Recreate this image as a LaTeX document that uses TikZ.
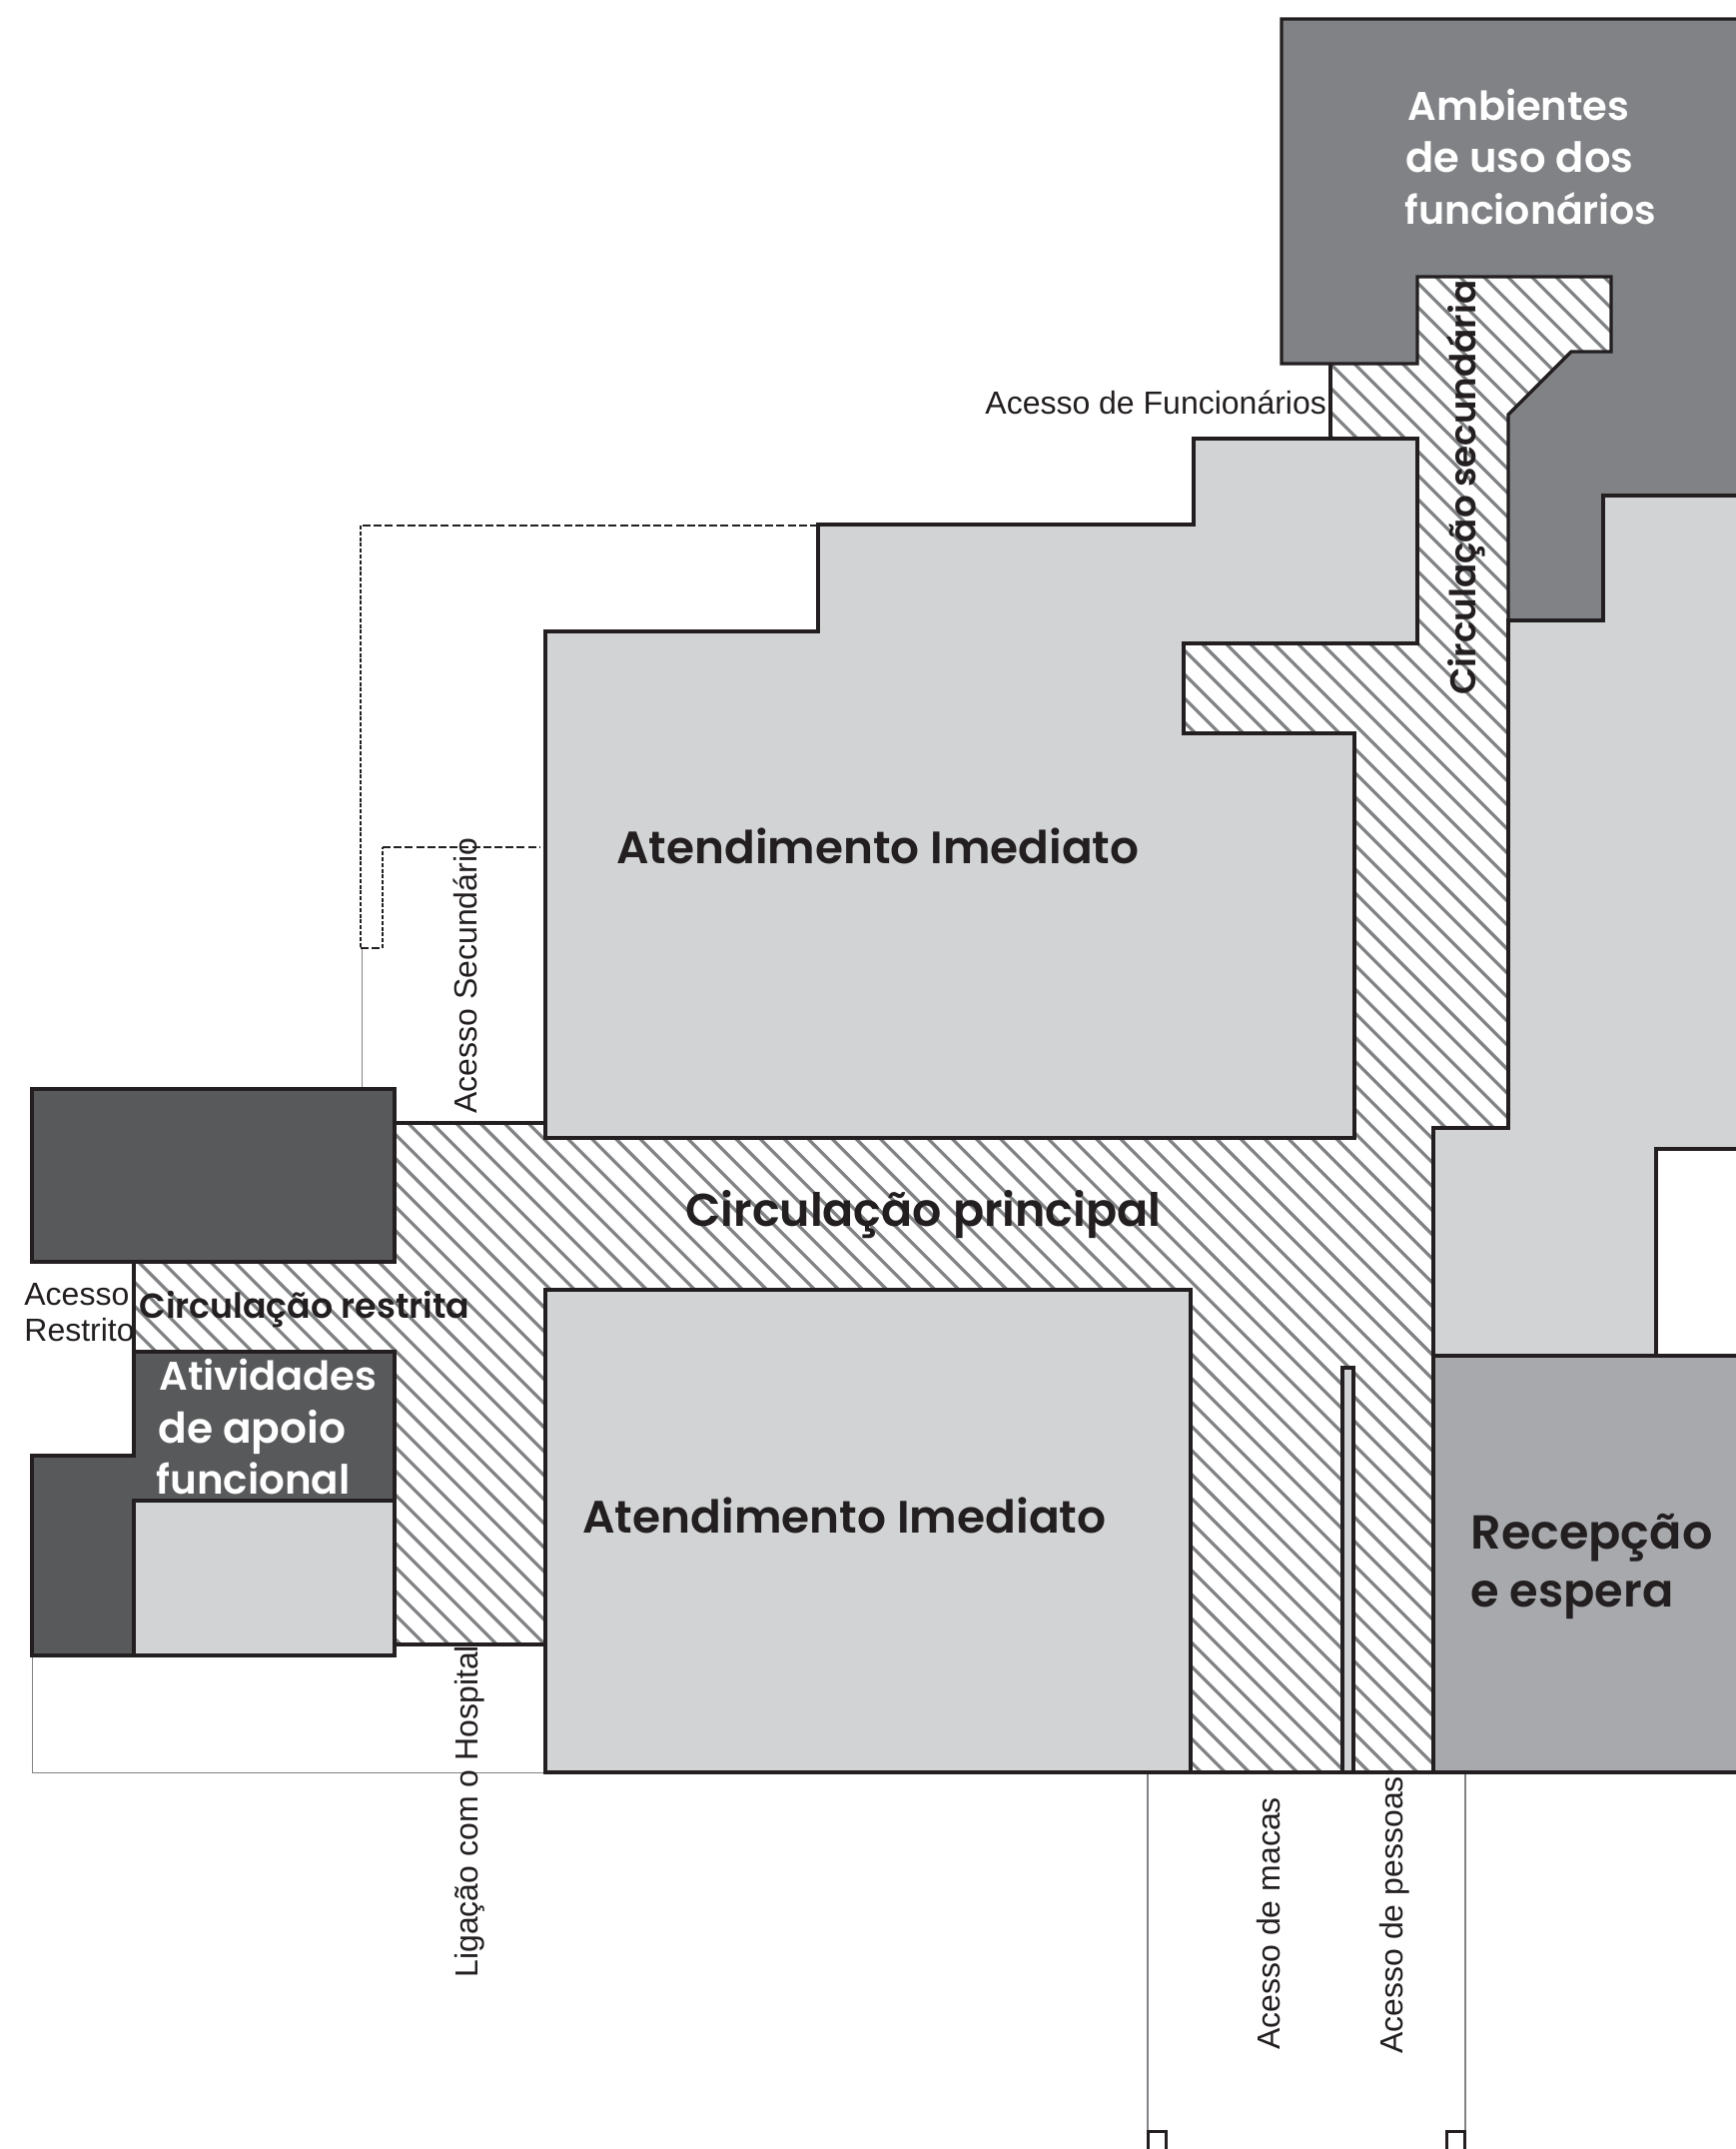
\documentclass[tikz,border=0pt]{standalone}
\usepackage{fontspec}
\usepackage{graphicx}
\setmainfont{Liberation Sans}
\newfontfamily\ttlfont[BoldFont={Poppins SemiBold}]{Poppins}
\definecolor{ink}{HTML}{231F20}
\definecolor{midgray}{HTML}{808285}
\definecolor{darkgray}{HTML}{58595B}
\definecolor{lightgray}{HTML}{D1D3D4}
\definecolor{recgray}{HTML}{A7A9AC}
\newcommand{\ttl}[2]{\resizebox{#1pt}{!}{\fontsize{20}{20}\ttlfont\bfseries #2}}
\tikzset{
  room/.style={draw=ink,line width=1.7pt,line join=miter},
  thinline/.style={draw=midgray,line width=0.5pt},
  stemline/.style={draw=midgray,line width=0.8pt},
  lbl/.style={font=\fontsize{16}{16}\selectfont,text=ink,inner sep=0pt},
  ttltext/.style={inner sep=0pt,anchor=base west,text=ink},
  ttlwhite/.style={inner sep=0pt,anchor=base west,text=white},
  hatchline/.style={draw=midgray,line width=1.6pt},
  access/.style={draw=ink,line width=0.9pt,dash pattern=on 4pt off 1.6pt},
  accessfine/.style={draw=ink,line width=0.9pt,dash pattern=on 2pt off 0.9pt}
}
\begin{document}
\begin{tikzpicture}[x=0.5pt,y=-0.5pt]
\useasboundingbox (0,0) rectangle (1737,2151);
\fill[white] (0,0) rectangle (1737,2151);
% thin reference lines
\draw[thinline] (362,949) -- (362,1090);
\draw[thinline] (32,1657) -- (32,1774) -- (546,1774);
\draw[stemline] (1149,1774) -- (1149,2133);
\draw[stemline] (1467,1774) -- (1467,2133);
\draw[ink,line width=1.5pt] (1149.5,2151) -- (1149.5,2133.5) -- (1167.5,2133.5) -- (1167.5,2151);
\draw[ink,line width=1.5pt] (1448.5,2151) -- (1448.5,2133.5) -- (1466.5,2133.5) -- (1466.5,2151);
% dashed access path
\draw[access] (819,526) -- (361,526);
\draw[accessfine] (361,526) -- (361,949);
\draw[access] (361,949) -- (383,949);
\draw[accessfine] (383,949) -- (383,848);
\draw[access] (383,848) -- (540,848);
% hatched circulation
\begin{scope}
\clip (1332,364) -- (1419,364) -- (1419,277) -- (1613,277) -- (1613,352) -- (1573,352) -- (1510,415) -- (1510,1129) -- (1435,1129) -- (1435,1774) -- (1191,1774) -- (1191,1291) -- (546,1291) -- (546,1646) -- (395,1646) -- (395,1353) -- (134,1353) -- (134,1263) -- (395,1263) -- (395,1124) -- (546,1124) -- (546,1139) -- (1356,1139) -- (1356,734) -- (1185,734) -- (1185,644) -- (1419,644) -- (1419,439) -- (1332,439) -- cycle;
\foreach \k in {-73,...,37} {
  \pgfmathsetmacro\c{403+24.05*\k}
  \draw[hatchline] (0,{\c}) -- (1737,{\c+1737});
}
\end{scope}
\draw[room] (1332,364) -- (1332,439);
\draw[room] (395,1124) -- (546,1124);
\draw[room] (395,1646) -- (546,1646);
\draw[room] (134,1263) -- (134,1353);
% rooms
\draw[room,fill=midgray] (1283,19) -- (1750,19) -- (1750,496) -- (1605,496) -- (1605,621) -- (1510,621) -- (1510,415) -- (1573,352) -- (1613,352) -- (1613,277) -- (1419,277) -- (1419,364) -- (1283,364) -- cycle;
\draw[room,fill=lightgray] (1510,621) -- (1605,621) -- (1605,496) -- (1750,496) -- (1750,1150) -- (1658,1150) -- (1658,1357) -- (1435,1357) -- (1435,1129) -- (1510,1129) -- cycle;
\draw[room,fill=lightgray] (1195,439) -- (1419,439) -- (1419,644) -- (1185,644) -- (1185,734) -- (1356,734) -- (1356,1139) -- (546,1139) -- (546,632) -- (819,632) -- (819,525) -- (1195,525) -- cycle;
\draw[room,fill=lightgray] (546,1291) rectangle (1192,1774);
\draw[room,fill=recgray] (1435,1357) rectangle (1750,1774);
\draw[room,fill=lightgray] (1344,1369) rectangle (1355,1774);
\draw[room] (1191,1774) -- (1435,1774);
\draw[room,fill=darkgray] (32,1090) rectangle (395,1263);
\draw[room,fill=darkgray] (134,1353) -- (395,1353) -- (395,1502) -- (134,1502) -- (134,1657) -- (32,1657) -- (32,1457) -- (134,1457) -- cycle;
\draw[room,fill=lightgray] (134,1502) rectangle (395,1657);
% room titles
\node[ttlwhite] (amb1) at (1409,121) {\ttl{111}{Ambientes}};
\node[ttlwhite] (amb2) at (1407,173) {\ttl{114}{de uso dos}};
\node[ttlwhite] (amb3) at (1406,225) {\ttl{126}{funcionários}};
\node[ttltext] (aten1) at (617,864) {\ttl{261.5}{Atendimento Imediato}};
\node[ttltext] (aten2) at (583,1534) {\ttl{262}{Atendimento Imediato}};
\node[ttltext] (princ) at (686,1227) {\ttl{238}{Circulação principal}};
\node[ttltext] (restr) at (139,1319) {\ttl{165.5}{Circulação restrita}};
\node[ttltext,rotate=90] (secun) at (1477,696) {\ttl{207.5}{Circulação secundária}};
\node[ttlwhite] (ativ1) at (159,1391) {\ttl{109}{Atividades}};
\node[ttlwhite] (ativ2) at (158,1444) {\ttl{94}{de apoio}};
\node[ttlwhite] (ativ3) at (156,1495) {\ttl{97}{funcional}};
\node[ttltext] (rec1) at (1472,1550) {\ttl{121}{Recepção}};
\node[ttltext] (rec2) at (1472,1608) {\ttl{101.5}{e espera}};
% plain labels
\node[lbl,anchor=base west] (lfunc) at (986,414) {Acesso de Funcionários};
\node[lbl,anchor=base west,rotate=90] (lsec) at (477,1115) {Acesso Secundário};
\node[lbl,anchor=base west,rotate=90] (lhosp) at (478,1980) {Ligação com o Hospital};
\node[lbl,anchor=base west,rotate=90] (lmac) at (1281,2052) {Acesso de macas};
\node[lbl,anchor=base west,rotate=90] (lpes) at (1404,2056) {Acesso de pessoas};
\node[lbl,anchor=base west] (lres1) at (24,1306) {Acesso};
\node[lbl,anchor=base west] (lres2) at (24,1342) {Restrito};
\end{tikzpicture}
\end{document}
